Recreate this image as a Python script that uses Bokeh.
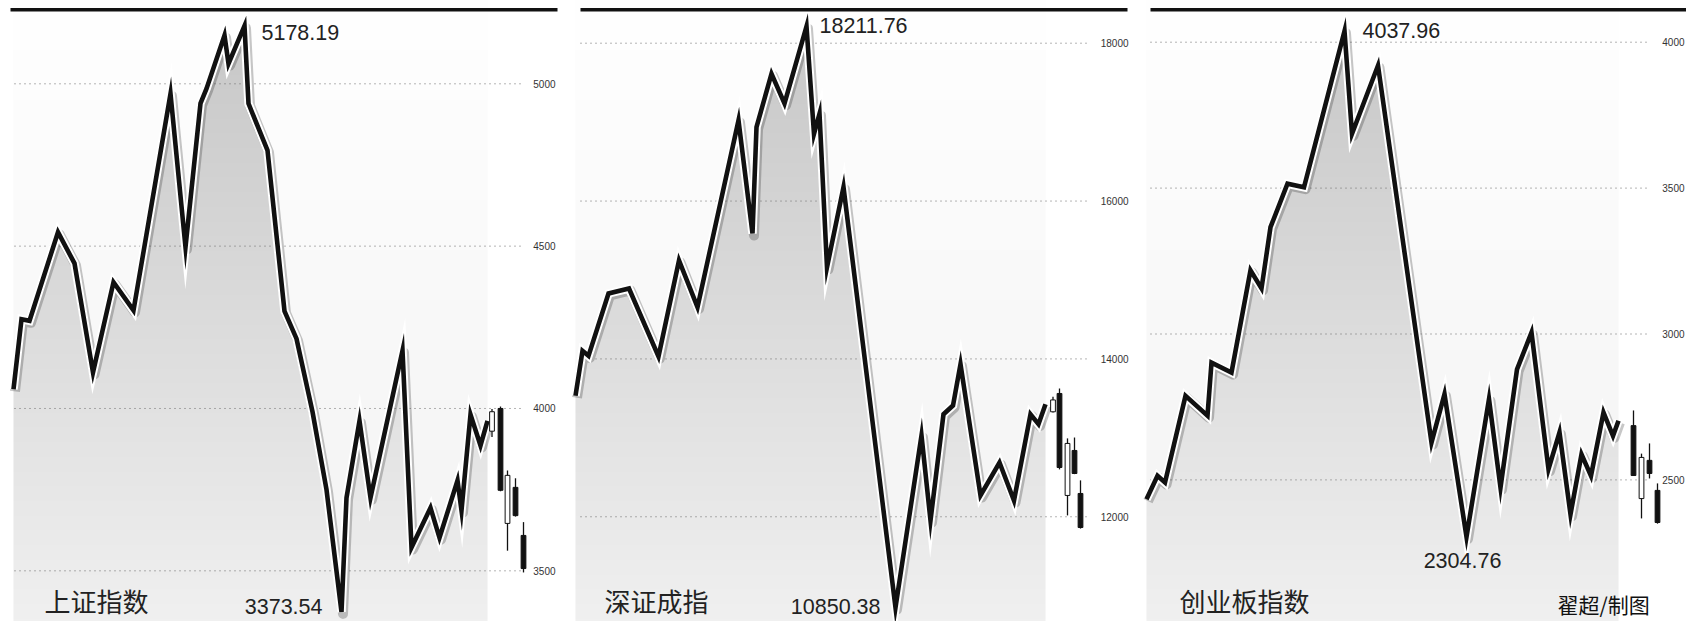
import numpy as np
from bokeh.plotting import figure
from bokeh.layouts import row
from bokeh.models import Label
from bokeh.core.properties import value
from bokeh.embed import file_html
from bokeh.resources import INLINE

# ---------------- data ----------------
# 上证指数 : day index, closing level
sh_x = [0, 1.6, 3.2, 8.9, 12.2, 15.9, 20, 24, 31.4, 34.4, 37.4, 38.6, 42.2, 43, 46.2, 47,
        50.8, 54.2, 56.6, 59.8, 62.6, 65.6, 66.6, 69.2, 71.4, 77.8, 79.6, 83.4, 85.2,
        88.8, 89.6, 91.4, 93.4, 94.8]
sh_y = [4059, 4275, 4270, 4543, 4447, 4111, 4389, 4302, 4969, 4497, 4940, 4985, 5149, 5062,
        5178.19, 4939, 4795, 4300, 4215, 3990, 3750, 3373.54, 3725, 3962, 3725, 4178, 3572,
        3694, 3602, 3778, 3686, 3981, 3886, 3962]
sh_cx = [95.7, 97.4, 98.8, 100.4, 102.0]
sh_open = [3930, 4000, 3646, 3757, 3609]
sh_high = [3998, 4006, 3809, 3785, 3650]
sh_low = [3912, 3745, 3562, 3667, 3495]
sh_close = [3990, 3748, 3794, 3670, 3507]
sh_ticks = [3500, 4000, 4500, 5000]
sh_tick_labels = ["3500", "4000", "4500", "5000"]

# 深证成指
sz_x = [0, 1.4, 2.6, 6.6, 10.7, 16.6, 20.7, 24.4, 32.6, 35.4, 36.2, 39.2, 41.8, 46.2, 47.7,
        48.8, 50.3, 53.6, 64, 69.2, 71, 73.6, 75.5, 77, 81, 84.8, 87.7, 91, 92.6, 94]
sz_y = [13533, 14103, 14039, 14829, 14892, 14030, 15247, 14655, 17021, 15589, 16936, 17612,
        17236, 18211.76, 16852, 17107, 15162, 16176, 10850.38, 13030, 11953, 13299, 13409,
        13933, 12270, 12687, 12206, 13299, 13173, 13426]
sz_cx = [95.5, 96.8, 98.4, 99.8, 101.0]
sz_open = [13330, 13562, 12270, 12840, 12295]
sz_high = [13520, 13625, 12993, 13004, 12461]
sz_low = [13320, 12600, 12017, 12540, 11850]
sz_close = [13480, 12624, 12929, 12548, 11864]
sz_ticks = [12000, 14000, 16000, 18000]
sz_tick_labels = ["12000", "14000", "16000", "18000"]

# 创业板指数
cy_x = [0, 2.2, 3.7, 7.8, 12.2, 13, 17, 20.8, 23, 24.8, 28.2, 31.5, 39.6, 41.1, 46.3, 57,
        59.6, 64, 68.5, 70.8, 74.1, 77, 80.4, 82.6, 84.8, 87, 88.9, 91.4, 93.3, 94.4]
cy_y = [2434, 2514, 2491, 2788, 2720, 2902, 2868, 3218, 3156, 3366, 3515, 3503, 4037.96,
        3686, 3920, 2628, 2794, 2304.76, 2777, 2474, 2879, 3005, 2537, 2663, 2382, 2588,
        2514, 2731, 2651, 2703]
cy_cx = [97.4, 99.0, 100.6, 102.2]
cy_open = [2686, 2436, 2567, 2464]
cy_high = [2738, 2590, 2625, 2488]
cy_low = [2515, 2368, 2505, 2350]
cy_close = [2515, 2577, 2522, 2354]
cy_ticks = [2500, 3000, 3500, 4000]
cy_tick_labels = ["2500", "3000", "3500", "4000"]

titles = ["上证指数", "深证成指", "创业板指数"]
credit = "翟超/制图"

# ---------------- layout ----------------
FRAME_H = 621
PX_PER_DAY = 5.0              # screen px per day
NUM_FONT = "Liberation Sans"
CJK_FONT = "Noto Sans CJK SC"


def make_panel(X, Y, cx, co, ch, cl, cc, ticks, tick_labels, title,
               width, left_px, day0_px, cal, grid_px, bar_px, label_right_px,
               title_px, max_off, min_off, min_align):
    right_px = left_px + width
    x_range = ((left_px - day0_px) / PX_PER_DAY, (right_px - day0_px) / PX_PER_DAY)
    v0, ay0, k = cal
    y_range = (v0 - (FRAME_H - ay0) * k, v0 + ay0 * k)

    def dx(px):
        return (px - day0_px) / PX_PER_DAY

    p = figure(width=width, height=FRAME_H, x_range=x_range, y_range=y_range,
               output_backend="svg", toolbar_location=None,
               x_axis_location=None, y_axis_location=None,
               min_border=0, min_border_left=0, min_border_right=0,
               min_border_top=0, min_border_bottom=0)
    p.grid.visible = False
    p.outline_line_color = None
    p.background_fill_color = "white"
    p.border_fill_color = "white"

    X = np.asarray(X, dtype=float)
    Y = np.asarray(Y, dtype=float)
    ux = (x_range[1] - x_range[0]) / width
    uy = (y_range[1] - y_range[0]) / FRAME_H

    # gradient backdrop: grey under the line, near-white above it
    x0, x1 = X[0], X[-1]
    W = max(2, int(round((x1 - x0) / ux)))
    H = FRAME_H
    xs = x0 + (np.arange(W) + 0.5) * (x1 - x0) / W
    ys = y_range[0] + (np.arange(H) + 0.5) * uy
    line_at = np.interp(xs, X, Y)
    ay = (y_range[1] - ys) / uy              # px from top
    under = 198.0 + 0.068 * ay
    above = 255.0 - 0.02 * ay
    shade = np.where(ys[:, None] < line_at[None, :], under[:, None], above[:, None])
    shade = np.clip(shade, 0, 255).astype(np.uint8)
    img = np.empty((H, W), dtype=np.uint32)
    view = img.view(dtype=np.uint8).reshape((H, W, 4))
    view[:, :, 0] = shade
    view[:, :, 1] = shade
    view[:, :, 2] = shade
    view[:, :, 3] = 255
    p.image_rgba(image=[img], x=x0, y=y_range[0], dw=x1 - x0, dh=y_range[1] - y_range[0])

    # dotted grid lines
    n = len(ticks)
    p.segment(x0=[dx(grid_px[0])] * n, y0=ticks, x1=[dx(grid_px[1])] * n, y1=ticks,
              line_color="#6a6a6a", line_width=1, line_dash="1 4")

    # line with shadow + white halo
    p.line(X + 1.5 * ux, Y - 2.0 * uy, line_color="#000000", line_alpha=0.22,
           line_width=10, line_join="round")
    p.line(X, Y, line_color="white", line_width=8.5, line_join="miter")
    p.line(X, Y, line_color="#111111", line_width=4.6, line_join="miter")

    # candlesticks
    co = np.asarray(co, float); cc = np.asarray(cc, float)
    p.segment(x0=cx, y0=ch, x1=cx, y1=cl, line_color="#111111", line_width=1.3)
    fills = ["#111111" if c < o else "white" for o, c in zip(co, cc)]
    p.vbar(x=cx, width=0.95, top=np.maximum(co, cc), bottom=np.minimum(co, cc),
           fill_color=fills, line_color="#111111", line_width=1)

    # tick labels at the right
    p.text(x=[x_range[1]] * n, y=ticks, text=tick_labels,
           x_offset=(label_right_px - right_px),
           text_align="right", text_baseline="middle", text_font=value(NUM_FONT),
           text_font_size="10px", text_color="#333333")

    # max / min annotations
    imax = int(np.argmax(Y))
    imin = int(np.argmin(Y))
    p.text(x=[X[imax]], y=[Y[imax]], text=[f"{Y[imax]:.2f}"], x_offset=max_off[0],
           y_offset=max_off[1], text_align="left", text_baseline="middle",
           text_font=value(NUM_FONT), text_font_size="21.5px", text_color="#222222")
    p.text(x=[X[imin]], y=[Y[imin]], text=[f"{Y[imin]:.2f}"], x_offset=min_off[0],
           y_offset=min_off[1], text_align=min_align, text_baseline="middle",
           text_font=value(NUM_FONT), text_font_size="21.5px", text_color="#222222")

    # thick rule on top
    y_bar = v0 + (ay0 - 9.3) * k
    p.segment(x0=[dx(bar_px[0])], y0=[y_bar], x1=[dx(bar_px[1])], y1=[y_bar],
              line_color="#111111", line_width=3.6)

    # title
    p.add_layout(Label(x=(title_px - left_px), y=(FRAME_H - 600),
                       x_units="screen", y_units="screen", text=title,
                       text_font=CJK_FONT, text_font_size="26px", text_color="#222222",
                       text_baseline="middle"))
    return p, left_px, right_px


p1, l1, r1 = make_panel(sh_x, sh_y, sh_cx, sh_open, sh_high, sh_low, sh_close, sh_ticks,
                        sh_tick_labels, titles[0], width=558, left_px=0.0, day0_px=13,
                        cal=(5000, 83.3, 3.08), grid_px=(14, 522), bar_px=(10, 557),
                        label_right_px=555, title_px=44, max_off=(17, 7),
                        min_off=(-19, -5), min_align="right")
p2, l2, r2 = make_panel(sz_x, sz_y, sz_cx, sz_open, sz_high, sz_low, sz_close, sz_ticks,
                        sz_tick_labels, titles[1], width=572, left_px=r1, day0_px=575,
                        cal=(18000, 42.7, 12.67), grid_px=(580, 1086), bar_px=(580, 1127),
                        label_right_px=1128, title_px=604, max_off=(13, -1),
                        min_off=(-15, -1), min_align="right")
p3, l3, r3 = make_panel(cy_x, cy_y, cy_cx, cy_open, cy_high, cy_low, cy_close, cy_ticks,
                        cy_tick_labels, titles[2], width=556, left_px=r2, day0_px=1146,
                        cal=(4000, 41.7, 3.427), grid_px=(1150, 1650), bar_px=(1150, 1686),
                        label_right_px=1684, title_px=1179, max_off=(18, -1),
                        min_off=(-4, 24), min_align="center")
p3.add_layout(Label(x=(1557 - l3), y=(FRAME_H - 603), x_units="screen",
                    y_units="screen", text=credit, text_font=CJK_FONT,
                    text_font_size="21px", text_color="#111111", text_baseline="middle"))

layout = row(p1, p2, p3, spacing=0)
open("out.html", "w").write(file_html(layout, INLINE))
